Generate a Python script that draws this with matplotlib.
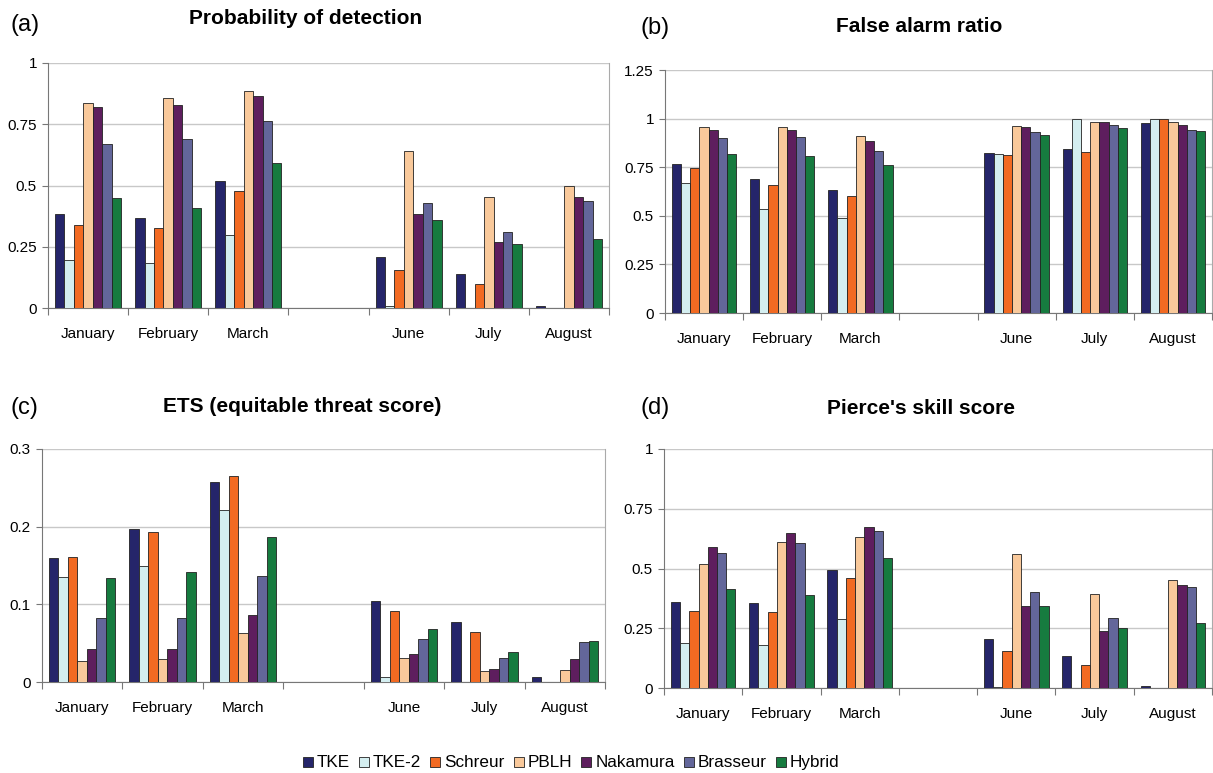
import numpy as np
import matplotlib.pyplot as plt
from matplotlib.patches import Rectangle

plt.rcParams['font.family'] = ['Liberation Sans', 'DejaVu Sans']

months = ['January', 'February', 'March', '', 'June', 'July', 'August']
schemes = ['TKE', 'TKE-2', 'Schreur', 'PBLH', 'Nakamura', 'Brasseur', 'Hybrid']
colors = ['#25256a', '#d4eef0', '#f26a22', '#f9c99b', '#5e1e5e', '#63669a', '#167b3f']

# rows: months (empty slot for April/May), columns: schemes
pod = [[0.385, 0.195, 0.340, 0.835, 0.820, 0.670, 0.450],
       [0.368, 0.183, 0.325, 0.857, 0.827, 0.690, 0.410],
       [0.517, 0.298, 0.478, 0.885, 0.867, 0.763, 0.592],
       [0, 0, 0, 0, 0, 0, 0],
       [0.210, 0.007, 0.157, 0.640, 0.385, 0.428, 0.360],
       [0.137, 0.000, 0.097, 0.455, 0.270, 0.310, 0.263],
       [0.010, 0.000, 0.000, 0.500, 0.455, 0.435, 0.280]]

far = [[0.765, 0.670, 0.745, 0.955, 0.940, 0.898, 0.820],
       [0.687, 0.533, 0.660, 0.955, 0.943, 0.903, 0.807],
       [0.633, 0.487, 0.600, 0.910, 0.885, 0.832, 0.760],
       [0, 0, 0, 0, 0, 0, 0],
       [0.823, 0.820, 0.815, 0.963, 0.955, 0.933, 0.918],
       [0.845, 1.000, 0.827, 0.985, 0.980, 0.965, 0.952],
       [0.977, 1.000, 1.000, 0.980, 0.968, 0.940, 0.935]]

ets = [[0.160, 0.135, 0.161, 0.027, 0.043, 0.082, 0.134],
       [0.197, 0.149, 0.193, 0.030, 0.043, 0.082, 0.142],
       [0.258, 0.222, 0.265, 0.063, 0.086, 0.137, 0.187],
       [0, 0, 0, 0, 0, 0, 0],
       [0.104, 0.006, 0.091, 0.031, 0.036, 0.056, 0.068],
       [0.077, 0.000, 0.065, 0.014, 0.017, 0.031, 0.038],
       [0.006, 0.000, 0.000, 0.016, 0.029, 0.052, 0.053]]

pss = [[0.360, 0.190, 0.322, 0.520, 0.592, 0.563, 0.413],
       [0.357, 0.180, 0.316, 0.610, 0.650, 0.605, 0.390],
       [0.493, 0.288, 0.460, 0.632, 0.673, 0.658, 0.543],
       [0, 0, 0, 0, 0, 0, 0],
       [0.207, 0.005, 0.155, 0.560, 0.343, 0.400, 0.343],
       [0.135, 0.000, 0.095, 0.393, 0.240, 0.293, 0.250],
       [0.010, 0.000, 0.000, 0.450, 0.430, 0.423, 0.273]]

W, H = 1213, 773
fig = plt.figure(figsize=(W / 100, H / 100), dpi=100)


def px_axes(x0, y0, x1, y1):
    return fig.add_axes([x0 / W, 1 - y1 / H, (x1 - x0) / W, (y1 - y0) / H])


def panel(ax, data, ymax, step, fmt):
    data = np.array(data)
    x = np.arange(len(months))
    bw = 0.118
    for j in range(len(schemes)):
        vals = data[:, j]
        keep = vals > 0
        ax.bar(x[keep] + (j - 3) * bw, vals[keep], bw, color=colors[j],
               edgecolor='#222222', linewidth=0.6, zorder=3)
    ax.set_xlim(-0.5, len(months) - 0.5)
    ax.set_ylim(0, ymax)
    yt = np.arange(0, ymax + step / 2, step)
    ax.set_yticks(yt)
    ax.set_yticklabels([fmt(v) for v in yt], fontsize=11)
    ax.yaxis.grid(True, color='#c8c8c8', linewidth=1, zorder=0)
    ax.set_xticks(np.arange(len(months) + 1) - 0.5)
    ax.set_xticklabels([])
    ax.set_xticks(x, minor=True)
    ax.set_xticklabels(months, minor=True, fontsize=11)
    ax.tick_params(axis='x', which='major', length=5, color='#777777')
    ax.tick_params(axis='x', which='minor', length=0, pad=14)
    ax.tick_params(axis='y', length=4, color='#777777', pad=4)
    for s in ['left', 'bottom']:
        ax.spines[s].set_color('#777777')
    ax.spines['right'].set_color('#aaaaaa')
    ax.spines['top'].set_visible(False)


def fmt_num(v):
    s = ('%.2f' % v).rstrip('0').rstrip('.')
    return s


ax_a = px_axes(48, 63, 609, 308)
panel(ax_a, pod, 1.0, 0.25, fmt_num)
ax_b = px_axes(665, 70, 1212, 313)
panel(ax_b, far, 1.25, 0.25, fmt_num)
ax_c = px_axes(42, 449, 605, 682)
panel(ax_c, ets, 0.3, 0.1, fmt_num)
ax_d = px_axes(664, 449, 1212, 688)
panel(ax_d, pss, 1.0, 0.25, fmt_num)

titles = [('(a)', 10, 25, 'Probability of detection', 306, 18),
          ('(b)', 640, 28, 'False alarm ratio', 919, 27),
          ('(c)', 10, 408, 'ETS (equitable threat score)', 302, 407),
          ('(d)', 640, 408, "Pierce's skill score", 921, 408)]
for lab, lx, ly, t, tx, ty in titles:
    fig.text(lx / W, 1 - ly / H, lab, fontsize=17, ha='left', va='center')
    fig.text(tx / W, 1 - ty / H, t, fontsize=15, fontweight='bold',
             ha='center', va='center')

# legend drawn by hand so every label sits on one baseline
fig.canvas.draw()
renderer = fig.canvas.get_renderer()
sq, pad_in, pad_out = 10, 4, 9
base_y = 767
texts = [fig.text(0, 0, s, fontsize=12.3, va='baseline') for s in schemes]
widths = [t.get_window_extent(renderer).width for t in texts]
total = sum(sq + pad_in + w for w in widths) + pad_out * (len(schemes) - 1)
x = 571 - total / 2
for t, w, c in zip(texts, widths, colors):
    fig.add_artist(Rectangle((x / W, 1 - base_y / H), sq / W, sq / H,
                             transform=fig.transFigure, facecolor=c,
                             edgecolor='#222222', linewidth=0.6))
    t.set_position(((x + sq + pad_in) / W, 1 - base_y / H))
    x += sq + pad_in + w + pad_out

fig.savefig('out.png', dpi=100)
